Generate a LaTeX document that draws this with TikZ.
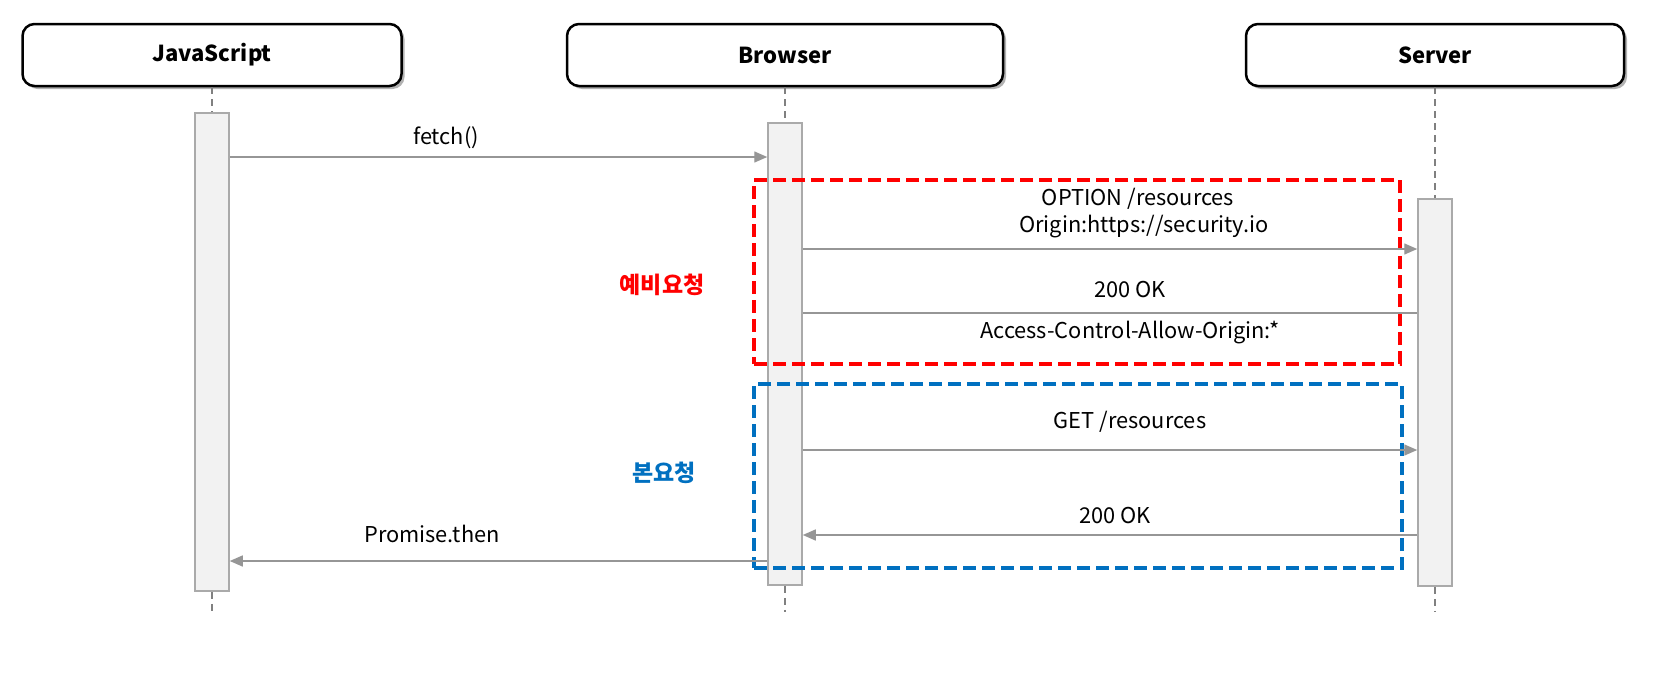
\documentclass[tikz,border=0pt]{standalone}
\usepackage{fontspec}
\setmainfont{Noto Sans CJK KR}
\usetikzlibrary{arrows.meta,shadows}
\definecolor{frred}{RGB}{255,0,0}
\definecolor{frblue}{RGB}{0,112,192}
\definecolor{barline}{RGB}{170,170,170}
\definecolor{barfill}{RGB}{242,242,242}
\definecolor{msgline}{RGB}{150,150,150}
\definecolor{lifeline}{RGB}{128,128,128}
\begin{document}
\begin{tikzpicture}[x=1pt,y=-1pt,
  actor/.style={draw=black, line width=2.5pt, rounded corners=12pt, fill=white,
    minimum height=62pt, inner sep=0pt,
    font=\fontsize{22}{26}\selectfont\bfseries,
    drop shadow={shadow xshift=3pt,shadow yshift=-3pt,opacity=0.3,fill=black}},
  actbar/.style={draw=barline, fill=barfill, line width=1.5pt, minimum width=34pt, inner sep=0pt},
  life/.style={draw=lifeline, line width=2.5pt, dash pattern=on 7pt off 5pt},
  msg/.style={draw=msgline, line width=1.4pt, -{Triangle[length=13pt,width=11pt]}, msgline},
  plainmsg/.style={draw=msgline, line width=1.4pt},
  frame/.style={line width=3.5pt, dash pattern=on 13pt off 6pt, inner sep=0pt},
  lbl/.style={font=\fontsize{21.8}{26}\selectfont, inner sep=0pt, align=center},
  grp/.style={font=\fontsize{23}{27}\selectfont\bfseries, inner sep=0pt}
]
\useasboundingbox (0,0) rectangle (1668,675);

% actors
\node[actor, minimum width=379pt] (js) at (212,55) {JavaScript};
\node[actor, minimum width=436pt] (br) at (785,55) {Browser};
\node[actor, minimum width=378pt] (sv) at (1435,55) {Server};

% activation bars
\node[actbar, minimum height=478pt] (jsbar) at (212,352) {};
\node[actbar, minimum height=462pt] (brbar) at (785,354) {};
\node[actbar, minimum height=387pt] (svbar) at (1435,392.5) {};

% lifeline ends
\coordinate (jsend) at (212,612);
\coordinate (brend) at (785,612);
\coordinate (svend) at (1435,612);

\draw[life] (js.south) -- (jsbar.north);
\draw[life] (br.south) -- (brbar.north);
\draw[life] (sv.south) -- (svbar.north);
\draw[life] (jsbar.south) -- (jsend);
\draw[life] (brbar.south) -- (brend);
\draw[life] (svbar.south) -- (svend);

% frames
\node[frame, draw=frred, minimum width=646pt, minimum height=184pt] (pre) at (1077,272) {};
\node[frame, draw=frblue, minimum width=648pt, minimum height=184pt] (main) at (1078,476) {};

% message levels
\coordinate (m1) at (0,157);
\coordinate (m2) at (0,249);
\coordinate (m3) at (0,313);
\coordinate (m4) at (0,450);
\coordinate (m5) at (0,535);
\coordinate (m6) at (0,561);

\draw[msg] (jsbar.east |- m1) -- (brbar.west |- m1);
\draw[msg] (brbar.east |- m2) -- (svbar.west |- m2);
\draw[plainmsg] (svbar.west |- m3) -- (brbar.east |- m3);
\draw[msg] (brbar.east |- m4) -- (svbar.west |- m4);
\draw[msg] (svbar.west |- m5) -- (brbar.east |- m5);
\draw[msg] (brbar.west |- m6) -- (jsbar.east |- m6);

% labels
\node[lbl] (l1) at (446,138) {fetch()};
\node[lbl] (l2) at (1138,199) {OPTION /resources};
\node[lbl] (l3) at (1144,227) {Origin:https://security.io};
\node[lbl] (l4) at (1130,290) {200 OK};
\node[lbl] (l5) at (1130,333) {Access-Control-Allow-Origin:*};
\node[lbl] (l6) at (1130,422) {GET /resources};
\node[lbl] (l7) at (1115,516) {200 OK};
\node[lbl] (l8) at (432,534) {Promise.then};

\node[grp, text=frred] (g1) at (662,285) {예비요청};
\node[grp, text=frblue] (g2) at (664,473) {본요청};
\end{tikzpicture}
\end{document}
